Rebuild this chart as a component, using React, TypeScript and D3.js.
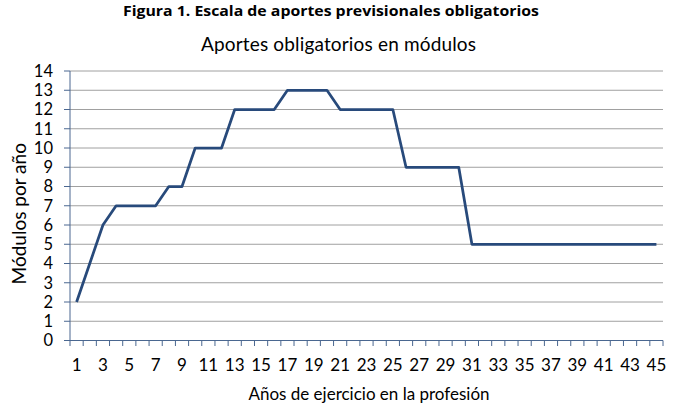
import React from "react";
import * as d3 from "d3";

const years: number[] = Array.from({ length: 45 }, (_, i) => i + 1);
const modules: number[] = [
  2, 4, 6, 7, 7, 7, 7, 8, 8, 10, 10, 10, 12, 12, 12, 12, 13, 13, 13, 13,
  12, 12, 12, 12, 12, 9, 9, 9, 9, 9, 5, 5, 5, 5, 5, 5, 5, 5, 5, 5, 5, 5, 5, 5, 5,
];
const yTicks: number[] = d3.range(0, 15);
const xLabels: number[] = years.filter((y) => y % 2 === 1);

const W = 673;
const H = 407;
const left = 70;
const right = 663;
const top = 71;
const bottom = 340.5;
const font = "Lato, 'Open Sans', sans-serif";

export default function App() {
  const x = d3.scaleBand<number>().domain(years).range([left, right]).padding(0);
  const y = d3.scaleLinear().domain([0, 14]).range([bottom, top]);
  const line = d3
    .line<number>()
    .x((_, i) => (x(years[i]) as number) + x.bandwidth() / 2)
    .y((d) => y(d));
  const boundaries = d3.range(0, years.length + 1).map((i) => left + i * x.step());

  return (
    <svg width={W} height={H} style={{ position: "absolute", left: 0, top: 0, background: "#fff" }}>
      <text x={123} y={15.5} fontFamily="'Open Sans', sans-serif" fontWeight="bold" fontSize={15} fill="#000"
        textLength={416} lengthAdjust="spacingAndGlyphs">
        Figura 1. Escala de aportes previsionales obligatorios
      </text>
      <text x={201} y={51} fontFamily={font} fontSize={19} fill="#000" textLength={275} lengthAdjust="spacing">
        Aportes obligatorios en módulos
      </text>
      {yTicks.map((t) => (
        <g key={t}>
          {t > 0 && (
            <line x1={left} x2={right} y1={y(t)} y2={y(t)} stroke="#a0a0a0" strokeWidth={1} />
          )}
          <line x1={left - 6} x2={left} y1={y(t)} y2={y(t)} stroke="#4a6790" strokeWidth={1} />
          <text x={53} y={y(t)} dy="0.36em" textAnchor="end" fontFamily={font} fontSize={16.5} fill="#000">
            {t}
          </text>
        </g>
      ))}
      <line x1={left} x2={left} y1={top} y2={bottom} stroke="#4a6790" strokeWidth={1} />
      <line x1={left} x2={right} y1={bottom} y2={bottom} stroke="#4a6790" strokeWidth={1} />
      {boundaries.map((bx, i) => (
        <line key={i} x1={bx} x2={bx} y1={bottom} y2={bottom + 5.5} stroke="#4a6790" strokeWidth={1} />
      ))}
      {xLabels.map((v) => (
        <text
          key={v}
          x={(x(v) as number) + x.bandwidth() / 2}
          y={371}
          textAnchor="middle"
          fontFamily={font}
          fontSize={17}
          fill="#000"
        >
          {v}
        </text>
      ))}
      <path d={line(modules) || ""} fill="none" stroke="#284a7b" strokeWidth={2.75} strokeLinejoin="round" />
      <text
        transform={`translate(26, ${(top + bottom) / 2 + 8}) rotate(-90)`}
        textAnchor="middle"
        fontFamily={font}
        fontSize={19}
        fill="#000"
      >
        Módulos por año
      </text>
      <text x={369} y={400} textAnchor="middle" fontFamily={font} fontSize={17} fill="#000">
        Años de ejercicio en la profesión
      </text>
    </svg>
  );
}
